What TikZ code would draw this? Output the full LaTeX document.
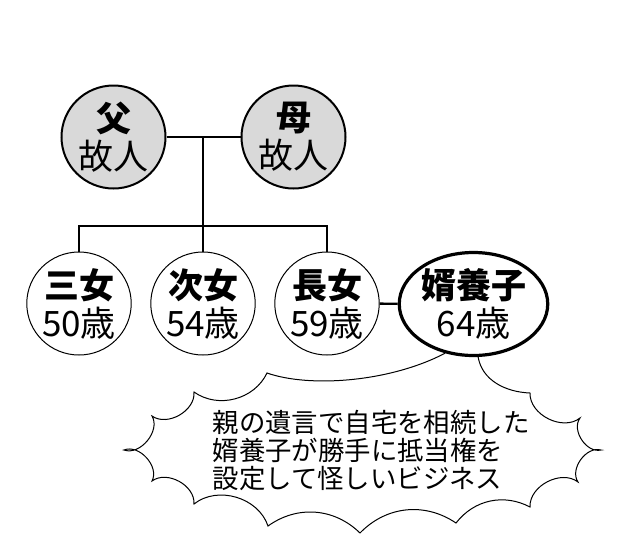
\documentclass[tikz,border=0pt]{standalone}
\usepackage{fontspec}
\setmainfont{Noto Sans CJK JP}
\usetikzlibrary{shapes.geometric, backgrounds}

\begin{document}
\begin{tikzpicture}[x = 0.5pt, y = -0.5pt,
		person/.style = {draw, ellipse, inner sep = 0pt, minimum width = 52pt, minimum height = 51.5pt, align = center, font = \fontsize{17.5}{19}\selectfont},
		link/.style = {line width = 1.2pt}]
		\useasboundingbox (0, 0) rectangle (620, 541);
		\node[person, fill = black!15, line width = 1pt] (fa) at (113.5, 137) {{\bfseries 父}\\故人};
		\node[person, fill = black!15, line width = 1pt] (mo) at (293.5, 137) {{\bfseries 母}\\故人};
		\foreach \x/\id/\title/\age in {79/san/三女/50, 203/ji/次女/54, 327/cho/長女/59}{
			\node[person, fill = white, line width = 0.5pt] (\id) at (\x, 303.5) {{\bfseries \title}\\\age 歳};}
		\node[person, fill = white, minimum width = 65pt, line width = 1.6pt] (muko) at (473.5, 304) {{\bfseries 婿養子}\\64歳};
		\coordinate (wed) at (203, 137);
		\coordinate (bar) at (203, 226);
		\draw[link] (fa) -- (mo);
		\draw[link] (wed) -- (bar);
		\draw[link] (san.north) |- (bar) -| (cho.north);
		\draw[link] (bar) -- (ji.north);
		\draw[link] (cho) -- (muko);
		\begin{scope}[on background layer]
		\draw[line width = 0.5pt, fill = white] (muko.-85) .. controls (482, 380) and (505, 392) .. (530, 393)
			to[bend right = 65] (580, 418) to[bend right = 70] (601, 450) to[bend right = 70] (578, 482)
			to[bend right = 65] (530, 507) to[bend right = 40] (456, 523) to[bend right = 40] (360, 533)
			to[bend right = 40] (268, 526) to[bend right = 55] (194, 504) to[bend right = 65] (152, 481)
			to[bend right = 70] (124, 450) to[bend right = 70] (152, 416) to[bend right = 65] (194, 392)
			to[bend right = 50] (267, 373) .. controls (310, 388) and (390, 382) .. (muko.-120);
		\end{scope}
		\node[align = left, inner sep = 0pt, font = \fontsize{13.2}{14}\selectfont] (msg) at (371, 450) {親の遺言で自宅を相続した\\婿養子が勝手に抵当権を\\設定して怪しいビジネス};
	\end{tikzpicture}
\end{document}
